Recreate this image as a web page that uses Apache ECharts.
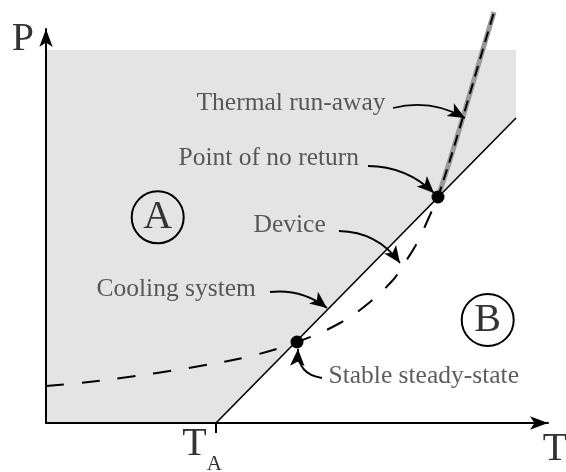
<!DOCTYPE html>
<html><head><meta charset="utf-8">
<script src="https://cdn.jsdelivr.net/npm/echarts@6/dist/echarts.min.js"></script>
<style>html,body{margin:0;padding:0;background:#fff}#c{width:566px;height:472px}</style>
</head><body><div id="c"></div>
<script>
// ---- data (T = temperature axis units, P = power axis units) ----
const axisT = [0, 502];
const axisP = [0, 394];
const ambientT = 170;                       // T_A tick
const regionT = [0, 470, 470, 170, 0];      // shaded zone A
const regionP = [373, 373, 305, 0, 0];
const coolingT = [170, 470];                // cooling system line
const coolingP = [0, 305];
const deviceT = [0, 34, 75, 111, 154, 201, 251, 294, 324, 347, 356, 371, 384, 392];
const deviceP = [37, 40, 45, 50, 57, 66, 81, 100, 121, 143, 156, 180, 208, 226];
const runawayT = [392, 404, 417, 437, 448];
const runawayP = [226, 263, 306, 374, 411];
const stateT = [251, 392];                  // stable steady-state, point of no return
const stateP = [81, 226];
const zoneNames = ['A', 'B'];
const zoneT = [111.7, 441.7];
const zoneP = [205.7, 103];
const noteText = ['Thermal run-away', 'Point of no return', 'Device', 'Cooling system', 'Stable steady-state'];
const noteT = [151, 133, 208, 51, 283];
const noteP = [319.5, 264.5, 197.5, 133.5, 46.5];
const arrowFromT = [347, 322, 293, 224, 276];
const arrowFromP = [315, 257, 192, 131, 45];
const arrowToT = [419, 388, 354, 281, 252];
const arrowToP = [305, 230, 160, 115, 74];
const arrowBend = [0.2, 0.2, 0.25, 0.2, 0.45];

const serif = 'Liberation Serif';
const txt = '#333';
const zip = (a, b) => a.map((v, i) => [v, b[i]]);

const chart = echarts.init(document.getElementById('c'), null, {renderer: 'canvas'});
chart.setOption({
  animation: false,
  backgroundColor: '#fff',
  grid: {left: 46, top: 29, right: 18, bottom: 49, outerBoundsMode: 'none'},
  xAxis: {
    type: 'value', min: axisT[0], max: axisT[1], z: 5,
    name: 'T', nameLocation: 'end', nameGap: 7,
    nameTextStyle: {fontFamily: serif, fontSize: 40, lineHeight: 52, color: txt, align: 'center', verticalAlign: 'top'},
    splitLine: {show: false},
    axisLine: {show: true, symbol: ['none', 'arrow'], symbolSize: [10, 18], lineStyle: {color: '#000', width: 2}},
    axisTick: {show: true, customValues: [ambientT], length: 10, lineStyle: {color: '#000', width: 2}},
    axisLabel: {
      show: true, customValues: [ambientT], margin: 12, padding: [0, 28, 0, 0],
      formatter: () => '{t|T}{s|A}',
      rich: {
        t: {fontFamily: serif, fontSize: 40, lineHeight: 40, color: txt, padding: [0, 0, 22, 0]},
        s: {fontFamily: serif, fontSize: 21, lineHeight: 21, color: txt, verticalAlign: 'bottom'}
      }
    }
  },
  yAxis: {
    type: 'value', min: axisP[0], max: axisP[1], z: 5,
    name: 'P', nameLocation: 'end', nameGap: -10,
    nameTextStyle: {fontFamily: serif, fontSize: 40, color: txt, align: 'right', verticalAlign: 'middle', padding: [0, 12, 0, 0]},
    splitLine: {show: false},
    axisLine: {show: true, symbol: ['none', 'arrow'], symbolSize: [10, 18], lineStyle: {color: '#000', width: 2}},
    axisTick: {show: false},
    axisLabel: {show: false}
  },
  series: [
    {
      type: 'custom', z: 1, silent: true, data: [[0, 0]],
      renderItem: (params, api) => ({
        type: 'polygon',
        shape: {points: regionT.map((t, i) => api.coord([t, regionP[i]]))},
        style: {fill: '#e4e4e4'}
      })
    },
    {
      type: 'line', z: 3, data: zip(coolingT, coolingP), symbol: 'none', silent: true,
      lineStyle: {color: '#000', width: 1.6}
    },
    {
      type: 'line', z: 3, data: zip(runawayT, runawayP), symbol: 'none', smooth: 0.3, clip: false, silent: true,
      lineStyle: {color: '#9a9a9a', width: 5}
    },
    {
      type: 'line', z: 4, data: zip(deviceT, deviceP), symbol: 'none', smooth: 0.4, silent: true,
      lineStyle: {color: '#000', width: 2, type: [18, 18]}
    },
    {
      type: 'line', z: 4, data: zip(runawayT, runawayP), symbol: 'none', smooth: 0.3, clip: false, silent: true,
      lineStyle: {color: '#000', width: 2, type: [11, 7]}
    },
    {
      type: 'lines', coordinateSystem: 'cartesian2d', z: 6, silent: true,
      symbol: ['none', 'arrow'], symbolSize: [0, [11, 17]],
      lineStyle: {color: '#000', width: 1.8, opacity: 1},
      data: arrowFromT.map((t, i) => ({
        coords: [[t, arrowFromP[i]], [arrowToT[i], arrowToP[i]]],
        lineStyle: {curveness: arrowBend[i]}
      }))
    },
    {
      type: 'scatter', z: 7, data: zip(stateT, stateP), symbol: 'circle', symbolSize: 13, silent: true,
      itemStyle: {color: '#000', opacity: 1}
    },
    {
      type: 'scatter', z: 7, silent: true, symbol: 'circle', symbolSize: 52,
      data: zoneNames.map((n, i) => ({name: n, value: [zoneT[i], zoneP[i]]})),
      itemStyle: {color: 'rgba(0,0,0,0)', borderColor: '#000', borderWidth: 2, opacity: 1},
      label: {show: true, position: 'inside', formatter: '{b}', fontFamily: serif, fontSize: 40, color: txt}
    },
    {
      type: 'scatter', z: 8, silent: true, symbolSize: 1, clip: false,
      data: noteText.map((n, i) => ({name: n, value: [noteT[i], noteP[i]]})),
      itemStyle: {color: 'rgba(0,0,0,0)'},
      label: {show: true, position: [0, 0], align: 'left', verticalAlign: 'middle', formatter: '{b}', fontFamily: serif, fontSize: 25.5, color: txt}
    }
  ]
});
</script></body></html>
